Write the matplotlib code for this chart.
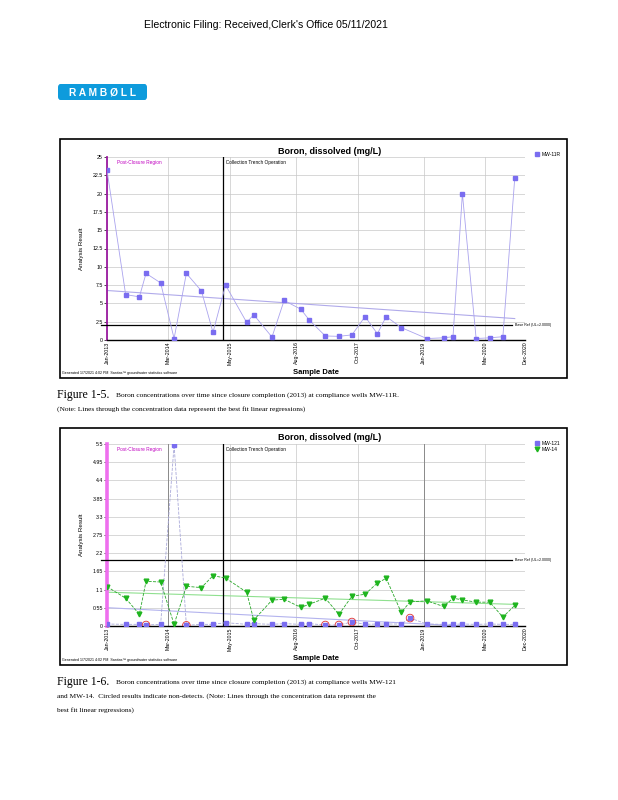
import matplotlib
matplotlib.use("Agg")
import matplotlib.pyplot as plt
import matplotlib.dates as mdates
import numpy as np
import pandas as pd
from matplotlib.patches import Rectangle, FancyBboxPatch

W, H = 618, 800

# ---- data ----
dates_mw11r = [
    "2013-01-15", "2013-05-24", "2013-08-27", "2013-10-12", "2014-01-21", "2014-04-24",
    "2014-07-18", "2014-10-30", "2015-01-18", "2015-04-15", "2015-09-08", "2015-10-27",
    "2016-03-01", "2016-05-24", "2016-09-17", "2016-11-15", "2017-03-05", "2017-06-07",
    "2017-09-05", "2017-12-05", "2018-02-28", "2018-04-30", "2018-08-12", "2019-02-05",
    "2019-06-01", "2019-08-05", "2019-10-09", "2020-01-12", "2020-04-15", "2020-07-15",
    "2020-10-05",
]
boron_mw11r = [
    23.2, 6.2, 5.9, 9.1, 7.8, 0.2, 9.1, 6.7, 1.05, 7.5, 2.4, 3.45, 0.4, 5.4, 4.2, 2.7,
    0.55, 0.5, 0.7, 3.2, 0.85, 3.2, 1.7, 0.2, 0.3, 0.45, 20.0, 0.2, 0.3, 0.45, 22.1,
]

dates_fig6 = [
    "2013-01-15", "2013-05-24", "2013-08-27", "2013-10-12", "2014-01-21", "2014-04-24",
    "2014-07-18", "2014-10-30", "2015-01-18", "2015-04-15", "2015-09-08", "2015-10-27",
    "2016-03-01", "2016-05-24", "2016-09-17", "2016-11-15", "2017-03-05", "2017-06-07",
    "2017-09-05", "2017-12-05", "2018-02-28", "2018-04-30", "2018-08-12", "2018-10-12",
    "2019-02-05", "2019-06-01", "2019-08-05", "2019-10-09", "2020-01-12", "2020-04-15",
    "2020-07-15", "2020-10-05",
]
boron_mw121 = [
    0.06, 0.05, 0.05, 0.03, 0.05, 5.47, 0.02, 0.05, 0.05, 0.10, 0.05, 0.07, 0.05, 0.07,
    0.05, 0.07, 0.03, 0.03, 0.12, 0.05, 0.06, 0.06, 0.06, 0.24, 0.06, 0.05, 0.05, 0.06,
    0.05, 0.06, 0.05, 0.05,
]
nondetect_mw121 = [3, 6, 16, 17, 18, 23]
boron_mw14 = [
    1.19, 0.84, 0.35, 1.35, 1.33, 0.05, 1.20, 1.16, 1.52, 1.45, 1.02, 0.18, 0.78, 0.81,
    0.56, 0.66, 0.84, 0.35, 0.90, 0.96, 1.30, 1.44, 0.41, 0.73, 0.76, 0.59, 0.84, 0.79,
    0.72, 0.72, 0.27, 0.62,
]

tick_dates = ["2013-01-15", "2014-03-15", "2015-05-15", "2016-08-15",
              "2017-10-15", "2019-01-15", "2020-03-15", "2020-12-15"]
trench_start = "2015-03-27"
base_ref = 2.0
yticks_fig5 = [0, 2.5, 5, 7.5, 10, 12.5, 15, 17.5, 20, 22.5, 25]
yticks_fig6 = [0, 0.55, 1.1, 1.65, 2.2, 2.75, 3.3, 3.85, 4.4, 4.95, 5.5]


def px_rect(left, top, right, bottom):
    return [left / W, 1 - bottom / H, (right - left) / W, (bottom - top) / H]


def fx(x):
    return x / W


def fy(y):
    return 1 - y / H


def add_trend(ax, dates, values, color):
    t = mdates.date2num(dates)
    slope, intercept = np.polyfit(t, values, 1)
    ends = np.array([t[0], t[-1]])
    ax.plot(mdates.num2date(ends), slope * ends + intercept, color=color, lw=0.8, zorder=2)


def setup_axes(ax, yticks, spine_color, spine_width, ticklabels):
    ticks = pd.to_datetime(tick_dates)
    ax.set_xlim(ticks[0], ticks[-1])
    ax.set_ylim(yticks[0], yticks[-1])
    ax.set_yticks(yticks)
    ax.set_yticklabels(ticklabels, fontsize=3.8)
    ax.set_xticks(ticks)
    ax.xaxis.set_major_formatter(mdates.DateFormatter("%b-%Y"))
    ax.tick_params(axis="x", labelrotation=90, labelsize=3.8, length=0, pad=1)
    ax.tick_params(axis="y", length=2, width=0.5, pad=1)
    ax.grid(True, color="#c8c8c8", lw=0.5)
    ax.set_axisbelow(True)
    ax.spines["top"].set_visible(False)
    ax.spines["right"].set_visible(False)
    ax.spines["bottom"].set_linewidth(1.0)
    ax.spines["left"].set_color(spine_color)
    ax.spines["left"].set_linewidth(spine_width)
    ax.set_ylabel("Analysis Result", fontsize=4.5, labelpad=6)
    ax.set_xlabel("Sample Date", fontsize=5.5, fontweight="bold", labelpad=3)
    ax.axvline(pd.Timestamp(trench_start), color="black", lw=0.9, zorder=3)
    trans = ax.get_yaxis_transform()
    ax.plot([-0.015, 0.97], [base_ref, base_ref], color="black", lw=0.9,
            transform=trans, clip_on=False, zorder=3)
    ax.text(0.975, base_ref, "Base Ref (UL=2.0000)", transform=trans, fontsize=2.6,
            va="center", ha="left", clip_on=False)
    ax.text(0.025, 0.985, "Post-Closure Region", transform=ax.transAxes, fontsize=3.4,
            color="#c000c0", va="top")
    ax.text(pd.Timestamp(trench_start), yticks[-1] * 0.985, "  Collection Trench Operation",
            fontsize=3.4, va="top", ha="left")


fig = plt.figure(figsize=(W / 100, H / 100), dpi=100)
plt.rcParams["font.family"] = ["Liberation Sans", "DejaVu Sans"]

# header
fig.text(fx(266), fy(25), "Electronic Filing: Received,Clerk's Office 05/11/2021",
         fontsize=7.6, ha="center", va="center")
logo = FancyBboxPatch((fx(58), fy(100)), fx(89), 16 / H,
                      boxstyle="round,pad=0,rounding_size=0.004",
                      transform=fig.transFigure, facecolor="#0e9bdc", edgecolor="none")
fig.add_artist(logo)
fig.text(fx(103), fy(92), "R A M B Ø L L", color="white", fontsize=7.4,
         fontweight="heavy", ha="center", va="center")

# ---- Figure 1-5 ----
fig.add_artist(Rectangle((fx(60), fy(378)), fx(507), 239 / H, transform=fig.transFigure,
                         fill=False, edgecolor="black", lw=1.2))
ax1 = fig.add_axes(px_rect(107, 157, 525, 340))
d11 = pd.to_datetime(dates_mw11r)
ax1.plot(d11, boron_mw11r, color="#aaa3ee", lw=0.6, marker="s", markersize=3.2,
         markerfacecolor="#7a6df0", markeredgecolor="#7a6df0", zorder=4, label="MW-11R")
add_trend(ax1, d11, boron_mw11r, "#b0aaea")
setup_axes(ax1, yticks_fig5, "#9b1aa0", 1.3, ["0", "2.5", "5", "7.5", "10", "12.5", "15",
                                              "17.5", "20", "22.5", "25"])
ax1.legend(loc="upper left", bbox_to_anchor=(1.02, 1.04), fontsize=3.6, frameon=False,
           handlelength=0.8, handletextpad=0.4, borderaxespad=0)
fig.text(fx(330), fy(151), "Boron, dissolved (mg/L)", fontsize=6.5, fontweight="bold",
         ha="center", va="center")
fig.text(fx(62), fy(373), "Generated 1/7/2021 4:02 PM  Sanitas\u2122 groundwater statistics software",
         fontsize=2.6, va="center")

fig.text(fx(57), fy(395), "Figure 1-5.", family=["Liberation Serif"], fontsize=8.5,
         va="center")
fig.text(fx(116), fy(395), "Boron concentrations over time since closure completion (2013) "
         "at compliance wells MW-11R.", family=["Liberation Serif"], fontsize=5.3, va="center")
fig.text(fx(57), fy(409), "(Note: Lines through the concentration data represent the best "
         "fit linear regressions)", family=["Liberation Serif"], fontsize=5.3, va="center")

# ---- Figure 1-6 ----
fig.add_artist(Rectangle((fx(60), fy(665)), fx(507), 237 / H, transform=fig.transFigure,
                         fill=False, edgecolor="black", lw=1.2))
ax2 = fig.add_axes(px_rect(107, 444, 525, 626))
d6 = pd.to_datetime(dates_fig6)
for marked in ["2014-03-15", "2019-01-15"]:
    ax2.axvline(pd.Timestamp(marked), color="#8a8a8a", lw=0.7, zorder=1)
ax2.plot(d6, boron_mw121, color="#a9a9d9", lw=0.6, ls="--", marker="s", markersize=3.2,
         markerfacecolor="#7a6df0", markeredgecolor="#7a6df0", zorder=4, label="MW-121")
ax2.plot(d6, boron_mw14, color="#2aa82a", lw=0.6, ls="--", marker="v", markersize=3.4,
         markerfacecolor="#1fb51f", markeredgecolor="#1fb51f", zorder=5, label="MW-14")
ax2.scatter(d6[nondetect_mw121], [boron_mw121[i] for i in nondetect_mw121], s=30,
            facecolors="none", edgecolors="#e03030", linewidths=0.6, zorder=6)
add_trend(ax2, d6, boron_mw121, "#b3b3ee")
add_trend(ax2, d6, boron_mw14, "#8fe08f")
setup_axes(ax2, yticks_fig6, "#ee6fee", 2.6, ["0", "0.55", "1.1", "1.65", "2.2", "2.75",
                                              "3.3", "3.85", "4.4", "4.95", "5.5"])
ax2.legend(loc="upper left", bbox_to_anchor=(1.02, 1.03), fontsize=3.6, frameon=False,
           handlelength=0.8, handletextpad=0.4, borderaxespad=0, labelspacing=0.2)
fig.text(fx(330), fy(438), "Boron, dissolved (mg/L)", fontsize=6.5, fontweight="bold",
         ha="center", va="center")
fig.text(fx(62), fy(660), "Generated 1/7/2021 4:02 PM  Sanitas\u2122 groundwater statistics software",
         fontsize=2.6, va="center")

fig.text(fx(57), fy(682), "Figure 1-6.", family=["Liberation Serif"], fontsize=8.5,
         va="center")
fig.text(fx(116), fy(682), "Boron concentrations over time since closure completion (2013) "
         "at compliance wells MW-121", family=["Liberation Serif"], fontsize=5.3, va="center")
fig.text(fx(57), fy(696), "and MW-14.  Circled results indicate non-detects. (Note: Lines "
         "through the concentration data represent the", family=["Liberation Serif"],
         fontsize=5.3, va="center")
fig.text(fx(57), fy(710), "best fit linear regressions)", family=["Liberation Serif"],
         fontsize=5.3, va="center")

fig.savefig("out.png", dpi=100)
plt.close(fig)
